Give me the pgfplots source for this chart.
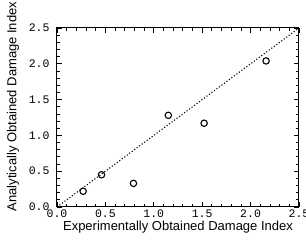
\documentclass[border=0pt]{standalone}
\usepackage{fontspec}
\setmainfont{Liberation Sans}
\setmonofont{Liberation Mono}
\usepackage{pgfplots}
\pgfplotsset{compat=1.18}
\begin{document}
\begin{tikzpicture}
\begin{axis}[
  at={(0pt,0pt)}, anchor=south west,
  scale only axis,
  width=242pt, height=179pt,
  xmin=0, xmax=2.5, ymin=0, ymax=2.5,
  xtick={0,0.5,...,2.5}, ytick={0,0.5,...,2.5},
  minor tick num=4,
  tick align=inside,
  major tick length=5pt, minor tick length=3pt,
  every tick/.style={black, line width=0.8pt},
  axis line style={line width=1pt},
  xticklabels={0.0,0.5,1.0,1.5,2.0,2.5},
  yticklabels={0.0,0.5,1.0,1.5,2.0,2.5},
  /pgf/number format/assume math mode=true,
  ticklabel style={font=\ttfamily\fontsize{11.5}{12}\selectfont},
  xticklabel style={yshift=1pt},
  yticklabel style={xshift=-4pt},
  label style={font=\fontsize{13}{14}\selectfont},
  xlabel={Experimentally Obtained Damage Index},
  ylabel={Analytically Obtained Damage Index},
  xlabel style={at={(axis description cs:0.5,-0.112)}, anchor=center},
  ylabel style={at={(axis description cs:-0.182,0.561)}, anchor=center},
  clip=false,
]
\addplot[black, line width=1.1pt, dash pattern=on 1.1pt off 2pt] coordinates {(0,0) (2.5,2.5)};
\addplot[only marks, mark=o, mark size=3.2pt, mark options={line width=1.1pt, black}] coordinates {
  (0.27,0.22) (0.46,0.45) (0.79,0.33) (1.15,1.28) (1.52,1.17) (2.16,2.04)
};
\end{axis}
\pgfresetboundingbox
\useasboundingbox (-57pt,-33pt) rectangle (249pt,207pt);
\end{tikzpicture}
\end{document}
